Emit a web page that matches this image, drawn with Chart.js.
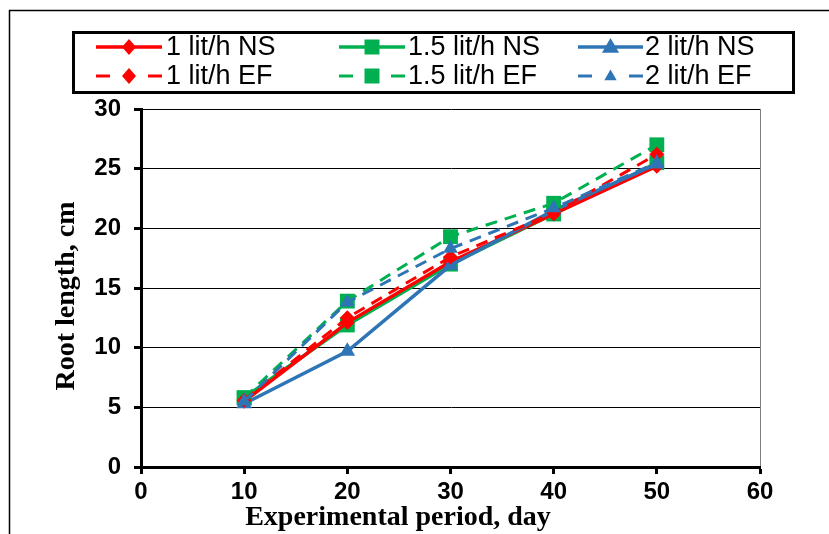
<!DOCTYPE html>
<html>
<head>
<meta charset="utf-8">
<script src="https://cdn.jsdelivr.net/npm/chart.js@4/dist/chart.umd.min.js"></script>
<style>
  html, body { margin: 0; padding: 0; background: #fff; }
  #wrap { position: relative; width: 829px; height: 534px; }
</style>
</head>
<body>
<div id="wrap"><canvas id="c" width="829" height="534"></canvas></div>
<script>
// ---- data ----
const days = [10, 20, 30, 40, 50];
const seriesNames = ["1 lit/h NS", "1.5 lit/h NS", "2 lit/h NS", "1 lit/h EF", "1.5 lit/h EF", "2 lit/h EF"];
const red_NS   = [5.5, 12.1, 17.2, 21.2, 25.2];
const green_NS = [5.8, 11.9, 17.0, 21.2, 25.5];
const blue_NS  = [5.3, 9.7, 16.9, 21.5, 25.4];
const red_EF   = [5.6, 12.5, 17.6, 21.3, 26.2];
const green_EF = [5.8, 13.9, 19.3, 22.1, 27.0];
const blue_EF  = [5.5, 13.8, 18.3, 21.7, 25.5];
const xTicks = [0, 10, 20, 30, 40, 50, 60];
const yTicks = [0, 5, 10, 15, 20, 25, 30];
const xTitle = "Experimental period, day";
const yTitle = "Root length, cm";

const RED = "#FF0000", GREEN = "#00B050", BLUE = "#2E75B6";

function pts(arr) { return days.map((d, i) => ({ x: d, y: arr[i] })); }

const styles = [
  { data: red_NS,   color: RED,   dash: [],      width: 3.5, ps: "rectRot",  r: 7.5, order: 5 },
  { data: green_NS, color: GREEN, dash: [],      width: 3.5, ps: "rect",     r: 10.5, order: 6 },
  { data: blue_NS,  color: BLUE,  dash: [],      width: 3.5, ps: "triangle", r: 9, order: 4 },
  { data: red_EF,   color: RED,   dash: [12, 8], width: 3,   ps: "rectRot",  r: 7.5, order: 2 },
  { data: green_EF, color: GREEN, dash: [12, 8], width: 3,   ps: "rect",     r: 10.5, order: 3 },
  { data: blue_EF,  color: BLUE,  dash: [12, 8], width: 3,   ps: "triangle", r: 8.5, order: 1 }
];

const datasets = styles.map((s, i) => ({
  label: seriesNames[i],
  data: pts(s.data),
  borderColor: s.color,
  backgroundColor: s.color,
  borderWidth: s.width,
  borderDash: s.dash,
  pointStyle: s.ps,
  pointRadius: s.r,
  pointHoverRadius: s.r,
  pointBorderWidth: 0,
  pointBackgroundColor: s.color,
  pointBorderColor: s.color,
  tension: 0,
  order: s.order,
  fill: false
}));

// legend + frame + titles plugin
const decor = {
  id: "decor",
  beforeDraw(chart) {
    const ctx = chart.ctx;
    ctx.save();
    ctx.strokeStyle = "#000";
    ctx.lineWidth = 1.5;
    ctx.beginPath();
    ctx.moveTo(9.5, 534);
    ctx.lineTo(9.5, 10.5);
    ctx.lineTo(829, 10.5);
    ctx.stroke();
    ctx.restore();
  },
  afterDraw(chart) {
    const ctx = chart.ctx;
    ctx.save();
    // axis titles
    ctx.fillStyle = "#000";
    ctx.font = "bold 28px 'Liberation Serif', 'Times New Roman', serif";
    ctx.textAlign = "center";
    ctx.textBaseline = "middle";
    ctx.fillText(xTitle, 398, 518);
    ctx.save();
    ctx.translate(67, 296);
    ctx.rotate(-Math.PI / 2);
    ctx.fillText(yTitle, 0, 0);
    ctx.restore();

    // legend box
    ctx.strokeStyle = "#000";
    ctx.lineWidth = 3;
    ctx.strokeRect(73.5, 32.5, 720, 60);

    const cols = [{ x1: 96, x2: 162, tx: 166 }, { x1: 339, x2: 405, tx: 408 }, { x1: 578, x2: 643, tx: 645 }];
    const rows = [47, 76];
    ctx.font = "27px 'Liberation Sans', Arial, sans-serif";
    ctx.textAlign = "left";
    ctx.textBaseline = "middle";
    styles.forEach((s, i) => {
      const c = cols[i % 3], y = rows[Math.floor(i / 3)];
      ctx.strokeStyle = s.color;
      ctx.lineWidth = s.width;
      if (s.dash.length) {
        ctx.beginPath(); ctx.moveTo(c.x1, y); ctx.lineTo(c.x1 + 14, y); ctx.stroke();
        ctx.beginPath(); ctx.moveTo(c.x2 - 14, y); ctx.lineTo(c.x2, y); ctx.stroke();
      } else {
        ctx.beginPath(); ctx.moveTo(c.x1, y); ctx.lineTo(c.x2, y); ctx.stroke();
      }
      const mx = (c.x1 + c.x2) / 2;
      ctx.fillStyle = s.color;
      ctx.beginPath();
      if (s.ps === "rectRot") {
        ctx.moveTo(mx, y - 8); ctx.lineTo(mx + 7, y); ctx.lineTo(mx, y + 8); ctx.lineTo(mx - 7, y);
      } else if (s.ps === "rect") {
        ctx.rect(mx - 7.5, y - 7.5, 15, 15);
      } else {
        const r = i === 5 ? 6.5 : 9;
        ctx.moveTo(mx, y - r); ctx.lineTo(mx + r * 0.95, y + r * 0.65); ctx.lineTo(mx - r * 0.95, y + r * 0.65);
      }
      ctx.closePath();
      ctx.fill();
      ctx.fillStyle = "#000";
      ctx.fillText(seriesNames[i], c.tx, y + 1);
    });
    ctx.restore();
  }
};

new Chart(document.getElementById("c"), {
  type: "line",
  data: { datasets },
  plugins: [decor],
  options: {
    responsive: false,
    animation: false,
    events: [],
    layout: { padding: { top: 109, right: 69, left: 0, bottom: 0 } },
    plugins: { legend: { display: false }, tooltip: { enabled: false }, title: { display: false } },
    scales: {
      x: {
        type: "linear",
        min: 0, max: 60,
        afterBuildTicks(scale) { scale.ticks = xTicks.map(v => ({ value: v })); },
        afterFit(scale) { scale.height = 67; },
        ticks: {
          color: "#000",
          font: { family: "'Liberation Sans', Arial, sans-serif", size: 24, weight: "bold" },
          padding: 4,
          maxRotation: 0
        },
        grid: {
          color: (c) => (c.tick && c.tick.value === 60 ? "#7f7f7f" : "rgba(0,0,0,0)"),
          lineWidth: 1,
          drawTicks: true,
          tickLength: 7,
          tickColor: "#000",
          tickWidth: 3
        },
        border: { color: "#000", width: 3 }
      },
      y: {
        type: "linear",
        min: 0, max: 30,
        afterBuildTicks(scale) { scale.ticks = yTicks.map(v => ({ value: v })); },
        afterFit(scale) { scale.width = 141; },
        ticks: {
          color: "#000",
          font: { family: "'Liberation Sans', Arial, sans-serif", size: 24, weight: "bold" },
          padding: 13
        },
        grid: {
          color: "#000",
          lineWidth: 1,
          drawTicks: true,
          tickLength: 7,
          tickColor: "#000",
          tickWidth: 3
        },
        border: { color: "#000", width: 3 }
      }
    }
  }
});
</script>
</body>
</html>
